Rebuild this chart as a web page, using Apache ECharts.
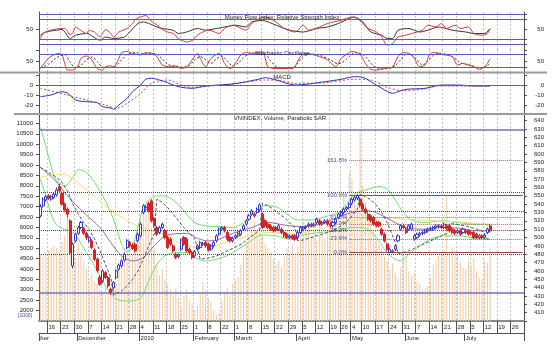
<!DOCTYPE html>
<html><head><meta charset="utf-8">
<script src="https://cdn.jsdelivr.net/npm/echarts@6/dist/echarts.min.js"></script>
<style>html,body{margin:0;padding:0;background:#fff}#c{width:557px;height:348px}</style>
</head><body><div id="c"></div>
<script>
// ---------- calendar ----------
const startDate = '2009-11-11';
const endDate = '2010-07-30';
const holidays = ['2010-01-01','2010-02-15','2010-02-16','2010-02-17','2010-02-18','2010-02-19','2010-04-23','2010-04-30','2010-05-03'];
const monthLabels = {'2009-11':'ber','2009-12':'December','2010-01':'2010','2010-02':'February','2010-03':'March','2010-04':'April','2010-05':'May','2010-06':'June','2010-07':'July'};

// ---------- price panel data (open, close, low, high) ----------
const candles = [
[526,537,524,540],[538,546,536,548],[545,549,543,551],[550,547,545,552],[546,549,544,551],[548,552,546,554],[551,557,549,560],[561,556,554,564],[553,540,538,555],[540,533,531,542],
[534,528,524,536],[520,482,480,522],[466,492,463,494],[496,504,494,506],[505,512,503,514],[512,518,510,520],[511,505,503,513],[505,500,497,507],[496,500,494,502],[496,488,486,498],
[485,474,472,487],[474,460,458,476],[452,444,442,455],[448,460,446,462],[458,452,450,460],[452,442,440,454],[438,434,431,440],[440,446,438,448],[452,460,450,462],[462,467,460,469],
[466,472,464,474],[473,480,471,482],[488,496,486,498],[494,490,488,496],[491,487,485,493],[492,484,482,494],[496,504,494,506],[502,516,500,518],[530,538,528,540],[534,536,532,539],
[541,532,530,543],[544,520,518,546],[523,514,512,525],[512,504,502,514],[506,512,504,514],[512,516,510,518],[508,500,498,510],[500,488,486,502],[498,492,490,500],[490,484,482,492],
[480,476,474,482],[477,479,475,481],[486,497,484,499],[500,492,490,502],[498,484,482,500],[486,482,480,488],[482,476,474,484],[478,483,476,485],[486,490,484,492],[488,494,486,496],
[492,493,490,495],[494,490,488,496],[492,485,483,494],[486,490,484,492],[490,494,488,496],[496,502,494,504],[504,510,502,512],[510,512,508,514],[512,508,506,514],[506,498,496,508],
[500,496,494,502],[496,499,494,501],[500,502,498,504],[502,505,500,507],[504,508,502,510],[510,514,508,516],[516,520,514,522],[522,526,520,528],[528,532,526,534],[528,526,524,530],
[530,534,528,536],[533,539,531,541],[528,512,510,530],[520,514,512,522],[516,512,510,518],[514,510,508,516],[512,508,506,514],[512,509,507,514],[510,514,508,516],[510,506,504,512],
[506,502,500,508],[504,500,498,506],[500,502,498,504],[502,499,497,504],[502,498,496,504],[500,506,498,508],[506,512,504,514],[510,512,508,514],[512,513,510,515],[514,516,512,518],
[516,514,512,518],[514,516,512,518],[518,522,516,524],[520,516,514,522],[516,518,514,520],[518,520,516,522],[520,516,514,522],[516,514,512,518],[514,518,512,520],[518,522,516,524],
[524,528,522,530],[527,530,525,532],[530,534,528,536],[534,536,532,538],[536,540,534,542],[541,546,539,548],[545,548,543,550],[547,550,545,552],[546,538,536,548],[540,534,532,542],
[534,530,528,536],[528,522,520,530],[526,520,518,528],[524,516,514,526],[518,514,512,520],[518,514,512,520],[510,504,502,512],[504,496,494,506],[492,486,484,494],[482,486,481,488],
[484,482,481,486],[486,490,484,492],[496,502,494,504],[510,514,508,516],[514,512,510,516],[510,506,504,512],[510,514,508,516],[510,516,508,518],[498,502,496,504],[500,504,498,506],
[503,505,501,507],[505,506,503,508],[506,508,504,510],[508,510,506,512],[510,511,508,513],[510,512,508,514],[512,514,510,516],[513,514,511,516],[514,512,510,516],[512,516,510,518],
[514,511,509,516],[514,508,506,516],[510,506,504,512],[508,505,503,510],[506,508,504,510],[508,504,502,510],[506,510,504,512],[508,506,504,510],[508,504,502,510],[506,505,503,508],
[506,500,498,508],[504,500,498,506],[500,502,498,504],[502,500,498,504],[500,503,498,505],[506,510,504,512],[514,508,506,516]
];
const volume = [
4700,4600,4800,4900,5000,5100,5000,4800,5300,5600,
6500,6200,5400,4500,5200,4800,
4400,4000,3600,3800,3400,3300,3000,
2900,3100,2800,2700,3000,3300,
4000,4600,5000,5400,5200,4700,5000,5600,
6400,6800,6600,6700,6000,
5000,4100,3700,4000,3500,
3300,3000,2800,3100,2600,2200,
2700,3000,2500,2300,2000,2200,
2800,3400,3000,2600,2400,2000,1800,1900,
2500,2900,3100,2800,3300,3500,3600,
4200,4800,5300,5600,6000,
6300,5900,6000,5600,5200,
5000,4800,4500,4200,4400,4100,4600,
5000,4800,5200,4600,5100,5500,
6300,6100,6000,5600,5800,5400,6000,5800,5500,5900,
6400,6100,6500,6000,6200,7500,6800,
8700,8300,7600,7000,10600,8000,
7200,6400,6200,5800,5400,5200,
5000,4600,4400,4000,4300,3800,3600,4100,
5000,4800,3900,3700,3800,
3400,3300,3000,3100,3200,3600,4200,
4400,4700,4800,4900,7500,
4800,5000,4600,4700,4300,4100,
4000,4400,4200,4500,3900,3600,3500,
4400,4300,5000
];
// [day index, value]
const bbUpper = [[0,632],[2,610],[4,585],[6,568],[9,562],[12,572],[14,581],[17,578],[20,566],[23,550],[26,530],[28,512],[30,492],[32,483],[34,490],[36,512],[38,535],[41,548],[45,550],[49,545],[53,532],[57,518],[61,514],[66,513],[71,512],[75,518],[79,530],[83,538],[87,537],[91,528],[95,521],[100,521],[105,525],[110,530],[113,540],[116,552],[120,557],[125,561],[128,558],[131,545],[134,530],[137,521],[142,518],[148,520],[154,518],[160,516],[166,516]];
const bbLower = [[0,570],[2,550],[4,528],[6,515],[9,510],[12,506],[14,498],[17,482],[20,466],[23,448],[26,432],[29,425],[33,424],[37,428],[40,448],[43,468],[46,478],[50,482],[54,482],[57,476],[61,472],[65,474],[70,480],[76,492],[82,503],[87,502],[92,498],[97,503],[103,506],[109,508],[115,512],[120,511],[124,500],[127,486],[130,476],[133,472],[136,480],[140,490],[144,498],[149,502],[155,502],[160,499],[166,498]];
const maPurple = [[0,584],[5,570],[10,550],[16,530],[22,512],[26,494],[30,478],[34,472],[38,476],[42,490],[47,503],[54,505],[58,499],[62,496],[66,498],[71,505],[78,512],[84,518],[90,515],[96,513],[103,516],[109,523],[115,530],[121,532],[127,525],[132,516],[136,511],[142,510],[148,512],[155,511],[161,508],[166,508]];
const maYellow = [[0,572],[8,576],[16,560],[26,533],[37,512],[47,502],[51,494],[58,488],[64,490],[72,498],[85,506],[93,504],[100,508],[108,514],[115,520],[126,524],[134,522],[146,520],[158,518],[166,514]];
const sar = [[0,584],[3,578],[6,572],[8,566],[10,556],[12,540],[14,528],[16,518],[18,510],[20,498],[22,484],[24,468],[26,452],[27,431],[30,436],[32,442],[34,450],[36,460],[38,474],[40,490],[42,504],[43,546],[45,542],[47,536],[49,528],[51,520],[53,512],[55,505],[57,499],[59,474],[61,475],[63,476],[65,478],[67,481],[69,484],[71,487],[73,490],[75,494],[77,499],[79,504],[81,510],[82,541],[84,538],[86,534],[88,529],[90,524],[92,518],[94,512],[95,496],[97,497],[99,499],[101,501],[103,503],[105,505],[107,507],[109,510],[111,514],[113,519],[115,526],[117,534],[118,552],[120,549],[122,545],[124,539],[126,530],[128,518],[130,502],[131,494],[132,481],[134,482],[136,484],[138,487],[140,490],[142,493],[144,496],[146,499],[148,502],[150,505],[151,517],[153,516],[155,515],[157,514],[159,512],[161,510],[163,508],[165,498],[166,499]];
const blueSolidLevels = [629, 433.6];
const blueDottedLevels = [554.4, 532, 509, 480.5];
const fibLevels = [592, 551, 524.5, 516.5, 508.5, 498.5, 482];
const fibNames = ['161.8%','100.0%','61.8%','50.0%','38.2%','23.6%','0.0%'];
const fibStartDay = 114;
const priceLabels = [410,420,430,440,450,460,470,480,490,500,510,520,530,540,550,560,570,580,590,600,610,620,630,640];
const priceTicks = [400,410,420,430,440,450,460,470,480,490,500,510,520,530,540,550,560,570,580,590,600,610,620,630,640];
const volumeLabels = [2000,2500,3000,3500,4000,4500,5000,5500,6000,6500,7000,7500,8000,8500,9000,9500,10000,10500,11000];

// ---------- indicator panels ----------
const mfi = [[0,38.6],[2,45],[6,48.6],[8,50],[11,32],[13,38.6],[17,42],[22,28.6],[24,35],[27,32],[31,35],[33,45],[36,62],[38,65],[40,62],[43,55],[45,52],[49,48.6],[51,42],[54,45],[58,52],[61,48.6],[65,52],[68,55],[72,58.6],[76,55],[78,65],[82,68],[87,58.6],[92,48.6],[97,45],[102,52],[106,55],[110,62],[114,72],[116,75],[119,65],[122,45],[126,38.6],[128,32],[130,32],[132,48.6],[136,52],[140,45],[143,48.6],[147,55],[152,48.6],[157,45],[160,42],[164,42],[166,52]];
const rsi = [[0,32],[1,42],[2,45],[4,49],[5,50],[7,52],[9,52],[11,39],[12,44],[13,55],[15,48],[17,42],[18,48],[20,45],[22,35],[23,42],[24,50],[26,42],[27,35],[29,45],[32,52],[34,62],[35,70],[37,75],[39,78],[40,72],[41,66],[43,59],[45,50],[47,45],[49,42],[51,32],[54,25],[56,28],[58,39],[60,45],[62,48.6],[63,48],[66,42],[68,52],[71,58.6],[73,55],[76,48.6],[78,62],[81,72],[83,75],[87,65],[90,52],[94,45],[97,58.6],[99,48.6],[103,55],[106,62],[111,68.6],[115,75],[117,72],[119,62],[121,52],[124,45],[126,35],[128,18.6],[130,22],[132,35],[135,38.6],[137,42],[141,48.6],[143,58.6],[146,55],[148,62],[150,52],[153,58.6],[155,52],[158,55],[160,42],[163,38.6],[165,42],[166,52]];
const mfiLevels = [80, 70, 30, 20];
const stochK = [[0,16],[1,32],[3,62],[5,78],[7,85],[8,78],[9,39],[10,9],[12,9],[14,32],[15,62],[17,73],[19,55],[21,16],[23,9],[24,24],[26,28],[27,24],[29,62],[30,88],[32,93],[34,85],[37,78],[39,88],[41,85],[43,70],[45,32],[48,24],[50,28],[52,16],[54,24],[56,55],[58,85],[59,62],[61,24],[63,62],[66,85],[68,39],[70,16],[72,39],[74,78],[76,88],[79,85],[82,93],[83,62],[84,24],[87,16],[90,16],[93,16],[96,70],[98,85],[103,70],[106,55],[109,24],[111,62],[114,88],[115,93],[118,80],[120,39],[122,12],[124,9],[127,16],[130,24],[132,70],[134,88],[136,85],[138,62],[140,24],[142,32],[144,85],[146,88],[149,78],[152,70],[154,32],[156,39],[158,32],[160,24],[162,12],[164,24],[166,60]];
const stochD = [[0,20],[3,35],[6,65],[9,78],[11,45],[13,18],[15,30],[17,55],[19,68],[21,48],[23,22],[26,20],[28,30],[30,55],[32,80],[35,88],[38,82],[41,85],[43,80],[45,60],[47,35],[50,25],[53,22],[55,30],[57,55],[59,70],[61,55],[63,40],[65,60],[67,72],[69,50],[71,28],[73,40],[75,65],[77,82],[80,86],[83,82],[85,50],[87,25],[90,18],[93,17],[95,40],[97,70],[100,82],[104,72],[107,55],[110,38],[112,48],[114,70],[116,88],[119,80],[121,55],[123,28],[126,14],[129,17],[131,30],[133,55],[135,80],[137,78],[139,55],[141,32],[143,50],[145,75],[147,85],[150,80],[153,62],[155,42],[157,35],[159,30],[161,22],[163,18],[165,30],[166,40]];
const stochLevels = [80, 20];
const macd = [[0,-11.7],[4,-10],[8,-6.7],[10,-8],[13,-15],[17,-16.7],[21,-17.7],[23,-21.7],[26,-23],[27,-24.3],[29,-20],[32,-13.3],[34,-6.7],[37,0],[39,6],[41,6.7],[44,5],[47,2.3],[49,0],[52,-2.3],[56,-3.3],[61,-1],[66,0],[71,1],[76,3.3],[81,6],[83,7.3],[87,5],[94,0],[99,1],[105,3.3],[111,5.7],[116,8.3],[119,7.7],[122,3.3],[126,-3.3],[130,-8.3],[132,-6.7],[135,-4.3],[142,-3.3],[148,0],[154,0],[160,-1],[166,-1]];
const macdSignal = [[0,-3.3],[10,-10],[17,-15],[24,-20],[28,-23.3],[32,-18.3],[37,-8.3],[41,1.7],[47,5],[52,0],[56,-2.3],[63,-1],[73,1.7],[83,5],[87,5],[94,1.7],[105,2.3],[116,5.7],[122,5],[128,-2.3],[134,-5.7],[141,-4.3],[147,-1],[160,-1],[166,-1]];
const macdLevels = [0];

// ---------- build ----------
function buildDays() {
  const out = [];
  let t = Date.parse(startDate);
  const end = Date.parse(endDate);
  while (t <= end) {
    const d = new Date(t);
    const w = d.getUTCDay();
    const s = d.toISOString().slice(0, 10);
    if (w !== 0 && w !== 6 && holidays.indexOf(s) < 0) out.push(s);
    t += 86400000;
  }
  return out;
}
const days = buildDays();
function weekStart(i) {
  if (i === 0) return false;
  const a = Date.parse(days[i - 1]), b = Date.parse(days[i]);
  return new Date(b).getUTCDay() < new Date(a).getUTCDay() || (b - a) > 6 * 86400000;
}
function monthStart(i) {
  return i === 0 || days[i].slice(0, 7) !== days[i - 1].slice(0, 7);
}

const FONT = 'Liberation Sans, Arial, sans-serif';
const axisColor = '#505050';
const gridDash = {color: '#c4c4c4', type: [2, 2], width: 1};
const levelBlue = '#5a5ab8';

function makeX(gridIndex) {
  return {
    type: 'category', gridIndex, data: days, boundaryGap: true,
    axisLine: {show: false}, axisTick: {show: false}, axisLabel: {show: false},
    splitLine: {show: true, interval: (i) => weekStart(i), lineStyle: gridDash}
  };
}
function makeY(gridIndex, position, min, max, labelVals, tickVals) {
  return {
    type: 'value', gridIndex, position, min, max,
    axisLine: {show: true, lineStyle: {color: axisColor, width: 1}},
    axisTick: {show: true, length: 3, customValues: tickVals, lineStyle: {color: axisColor}},
    axisLabel: {show: true, customValues: labelVals, margin: position === 'left' ? 6 : 20, align: 'right',
      formatter: (v) => String(v), fontSize: 6, color: '#222', fontFamily: FONT},
    splitLine: {show: false}
  };
}
function levelLines(levels, color) {
  return {silent: true, symbol: 'none', animation: false, label: {show: false},
    lineStyle: {color: color, type: 'solid', width: 1},
    data: levels.map(v => ({yAxis: v}))};
}

const priceMarks = [];
blueSolidLevels.forEach(v => priceMarks.push({yAxis: v, lineStyle: {color: '#7070c4', width: 1.5, type: 'solid'}}));
blueDottedLevels.forEach(v => priceMarks.push({yAxis: v, lineStyle: {color: '#3a3ac4', width: 1, type: 'dotted'}}));
fibLevels.forEach((v, k) => {
  const solid = fibNames[k] === '100.0%' || fibNames[k] === '0.0%';
  priceMarks.push([
    {coord: [fibStartDay, v],
     lineStyle: {color: solid ? '#a04444' : '#b06060', width: 1, type: solid ? 'solid' : 'dotted'},
     label: {show: true, position: 'start', formatter: fibNames[k], distance: 2, fontSize: 6, color: '#4a4aa8', fontFamily: FONT}},
    {coord: [days.length - 1, v]}
  ]);
});

const lineBase = {type: 'line', showSymbol: false, symbol: 'none', animation: false, silent: true};

const option = {
  animation: false,
  textStyle: {fontFamily: FONT},
  grid: [
    {left: 39, right: 33, top: 12, height: 38},
    {left: 39, right: 33, top: 50, height: 22},
    {left: 39, right: 33, top: 73, height: 42},
    {left: 39, right: 33, top: 114, height: 207}
  ],
  xAxis: [
    makeX(0), makeX(1), makeX(2),
    {
      type: 'category', gridIndex: 3, data: days, boundaryGap: true, position: 'bottom',
      axisLine: {show: true, lineStyle: {color: '#8a8a8a', width: 2}},
      axisTick: {show: true, interval: (i) => weekStart(i), length: 12, lineStyle: {color: axisColor}},
      axisLabel: {show: true, interval: (i) => weekStart(i), formatter: (v) => String(Number(v.slice(8))),
        align: 'left', margin: 3, fontSize: 6, color: '#222', fontFamily: FONT},
      splitLine: {show: true, interval: (i) => weekStart(i), lineStyle: gridDash}
    },
    {
      type: 'category', gridIndex: 3, data: days, boundaryGap: true, position: 'bottom', offset: 12,
      axisLine: {show: true, lineStyle: {color: axisColor, width: 1}},
      axisTick: {show: true, interval: (i) => monthStart(i), length: 8, lineStyle: {color: axisColor}},
      axisLabel: {show: true, interval: (i) => monthStart(i), formatter: (v) => monthLabels[v.slice(0, 7)],
        align: 'left', margin: 2, fontSize: 6, color: '#222', fontFamily: FONT},
      splitLine: {show: false}
    }
  ],
  yAxis: [
    makeY(0, 'left', 9, 85, [50], [50]),
    makeY(0, 'right', 9, 85, [50], [20, 30, 50, 70, 80]),
    makeY(1, 'left', 0, 100, [50], [50, 100]),
    makeY(1, 'right', 0, 100, [50], [20, 50, 80, 100]),
    makeY(2, 'left', -30, 12, [0, -10, -20], [10, 0, -10, -20]),
    makeY(2, 'right', -30, 12, [0, -10, -20], [10, 0, -10, -20]),
    makeY(3, 'left', 1500, 11450, volumeLabels, volumeLabels),
    makeY(3, 'right', 400, 648, priceLabels, priceTicks)
  ],
  series: [
    // MFI / RSI
    Object.assign({}, lineBase, {name: 'MFI', xAxisIndex: 0, yAxisIndex: 0, data: mfi, smooth: 0.25,
      lineStyle: {color: '#333333', width: 1}, z: 3, markLine: levelLines(mfiLevels, levelBlue)}),
    Object.assign({}, lineBase, {name: 'RSI', xAxisIndex: 0, yAxisIndex: 0, data: rsi, smooth: 0.25,
      lineStyle: {color: '#d03838', width: 1}, z: 4}),
    // Stochastic
    Object.assign({}, lineBase, {name: '%D', xAxisIndex: 1, yAxisIndex: 2, data: stochD, smooth: 0.3,
      lineStyle: {color: '#333333', width: 1, type: [2, 2]}, z: 3, markLine: levelLines(stochLevels, levelBlue)}),
    Object.assign({}, lineBase, {name: '%K', xAxisIndex: 1, yAxisIndex: 2, data: stochK, smooth: 0.3,
      lineStyle: {color: '#d03838', width: 1}, z: 4}),
    // MACD
    Object.assign({}, lineBase, {name: 'Signal', xAxisIndex: 2, yAxisIndex: 4, data: macdSignal, smooth: 0.3,
      lineStyle: {color: '#d04848', width: 1, type: [2, 2]}, z: 3, markLine: levelLines(macdLevels, levelBlue)}),
    Object.assign({}, lineBase, {name: 'MACD', xAxisIndex: 2, yAxisIndex: 4, data: macd, smooth: 0.3,
      lineStyle: {color: '#3030c0', width: 1}, z: 4}),
    // Volume
    {type: 'bar', name: 'Volume', xAxisIndex: 3, yAxisIndex: 6, data: volume, barWidth: 1, clip: true,
      itemStyle: {color: '#f0c9a0'}, z: 1, silent: true, animation: false},
    // Bands & averages
    Object.assign({}, lineBase, {name: 'BB upper', xAxisIndex: 3, yAxisIndex: 7, data: bbUpper, smooth: 0.35,
      lineStyle: {color: '#6ee06e', width: 1}, z: 2}),
    Object.assign({}, lineBase, {name: 'BB lower', xAxisIndex: 3, yAxisIndex: 7, data: bbLower, smooth: 0.35,
      lineStyle: {color: '#6ee06e', width: 1}, z: 2}),
    Object.assign({}, lineBase, {name: 'MA yellow', xAxisIndex: 3, yAxisIndex: 7, data: maYellow, smooth: 0.35,
      lineStyle: {color: '#ede070', width: 1}, z: 2, markLine: {silent: true, symbol: 'none', animation: false,
        label: {show: false}, data: priceMarks}}),
    Object.assign({}, lineBase, {name: 'MA purple', xAxisIndex: 3, yAxisIndex: 7, data: maPurple, smooth: 0.35,
      lineStyle: {color: '#9a66a8', width: 1}, z: 2}),
    {type: 'candlestick', name: 'VNINDEX', xAxisIndex: 3, yAxisIndex: 7, data: candles, barWidth: 2.6,
      itemStyle: {color: '#ffffff', color0: '#e42626', borderColor: '#3838cc', borderColor0: '#d02020', borderWidth: 1},
      z: 5, silent: true, animation: false},
    Object.assign({}, lineBase, {name: 'SAR', xAxisIndex: 3, yAxisIndex: 7, data: sar,
      lineStyle: {color: '#505050', width: 1, type: [3, 2]}, z: 6})
  ],
  graphic: [
    {type: 'line', shape: {x1: 0, y1: 72.5, x2: 547, y2: 72.5}, style: {stroke: '#9a9a9a', lineWidth: 2}, z: 10},
    {type: 'line', shape: {x1: 14, y1: 114, x2: 547, y2: 114}, style: {stroke: '#9a9a9a', lineWidth: 2}, z: 10},
    {type: 'text', x: 282, y: 17, z: 10, style: {text: 'Money Flow Index, Relative Strength Index', fill: '#222', font: '6px ' + FONT, align: 'center', verticalAlign: 'middle'}},
    {type: 'text', x: 282, y: 53, z: 10, style: {text: 'Stochastic Oscillator', fill: '#222', font: '6px ' + FONT, align: 'center', verticalAlign: 'middle'}},
    {type: 'text', x: 282, y: 77, z: 10, style: {text: 'MACD', fill: '#222', font: '6px ' + FONT, align: 'center', verticalAlign: 'middle'}},
    {type: 'text', x: 280, y: 118, z: 10, style: {text: 'VNINDEX, Volume, Parabolic SAR', fill: '#222', font: '6px ' + FONT, align: 'center', verticalAlign: 'middle'}},
    {type: 'text', x: 25, y: 316, z: 10, style: {text: '[1000]', fill: '#3c3ca8', font: '5px ' + FONT, align: 'center', verticalAlign: 'middle'}}
  ]
};

const chart = echarts.init(document.getElementById('c'), null, {renderer: 'canvas'});
chart.setOption(option);
</script>
</body></html>
